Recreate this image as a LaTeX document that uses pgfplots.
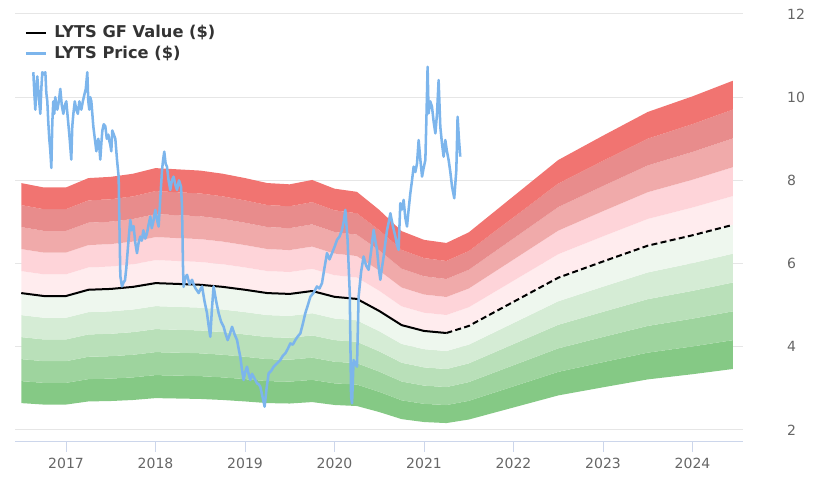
\documentclass[border=0pt]{standalone}
\usepackage{pgfplots}
\pgfplotsset{compat=1.18}
\usepackage{pgfplotstable}
\usepgfplotslibrary{fillbetween}
\usepackage{fontspec}
\setmainfont{DejaVu Sans}
\definecolor{r5}{RGB}{241,116,113}
\definecolor{r4}{RGB}{232,140,140}
\definecolor{r3}{RGB}{240,170,170}
\definecolor{r2}{RGB}{254,212,217}
\definecolor{r1}{RGB}{255,236,238}
\definecolor{g1}{RGB}{238,247,238}
\definecolor{g2}{RGB}{213,236,213}
\definecolor{g3}{RGB}{185,224,185}
\definecolor{g4}{RGB}{158,212,158}
\definecolor{g5}{RGB}{133,201,133}
\definecolor{priceblue}{RGB}{124,181,236}
\definecolor{axisblue}{RGB}{204,214,235}
\definecolor{gridgray}{RGB}{230,230,230}
\definecolor{tickgray}{RGB}{102,102,102}
\definecolor{textdark}{RGB}{51,51,51}

\pgfplotstableread{
x g b05 b06 b07 b08 b09 b11 b12 b13 b14 b15
2016.50 5.29 2.645 3.174 3.703 4.232 4.761 5.819 6.348 6.877 7.406 7.935
2016.75 5.22 2.610 3.132 3.654 4.176 4.698 5.742 6.264 6.786 7.308 7.830
2017.00 5.22 2.610 3.132 3.654 4.176 4.698 5.742 6.264 6.786 7.308 7.830
2017.25 5.37 2.685 3.222 3.759 4.296 4.833 5.907 6.444 6.981 7.518 8.055
2017.50 5.39 2.695 3.234 3.773 4.312 4.851 5.929 6.468 7.007 7.546 8.085
2017.75 5.44 2.720 3.264 3.808 4.352 4.896 5.984 6.528 7.072 7.616 8.160
2018.00 5.53 2.765 3.318 3.871 4.424 4.977 6.083 6.636 7.189 7.742 8.295
2018.25 5.51 2.755 3.306 3.857 4.408 4.959 6.061 6.612 7.163 7.714 8.265
2018.50 5.49 2.745 3.294 3.843 4.392 4.941 6.039 6.588 7.137 7.686 8.235
2018.75 5.44 2.720 3.264 3.808 4.352 4.896 5.984 6.528 7.072 7.616 8.160
2019.00 5.37 2.685 3.222 3.759 4.296 4.833 5.907 6.444 6.981 7.518 8.055
2019.25 5.29 2.645 3.174 3.703 4.232 4.761 5.819 6.348 6.877 7.406 7.935
2019.50 5.27 2.635 3.162 3.689 4.216 4.743 5.797 6.324 6.851 7.378 7.905
2019.75 5.34 2.670 3.204 3.738 4.272 4.806 5.874 6.408 6.942 7.476 8.010
2020.00 5.20 2.600 3.120 3.640 4.160 4.680 5.720 6.240 6.760 7.280 7.800
2020.25 5.15 2.575 3.090 3.605 4.120 4.635 5.665 6.180 6.695 7.210 7.725
2020.50 4.86 2.430 2.916 3.402 3.888 4.374 5.346 5.832 6.318 6.804 7.290
2020.75 4.52 2.260 2.712 3.164 3.616 4.068 4.972 5.424 5.876 6.328 6.780
2021.00 4.38 2.190 2.628 3.066 3.504 3.942 4.818 5.256 5.694 6.132 6.570
2021.25 4.33 2.165 2.598 3.031 3.464 3.897 4.763 5.196 5.629 6.062 6.495
2021.50 4.50 2.250 2.700 3.150 3.600 4.050 4.950 5.400 5.850 6.300 6.750
2022.00 5.08 2.540 3.048 3.556 4.064 4.572 5.588 6.096 6.604 7.112 7.620
2022.50 5.66 2.830 3.396 3.962 4.528 5.094 6.226 6.792 7.358 7.924 8.490
2023.00 6.05 3.025 3.630 4.235 4.840 5.445 6.655 7.260 7.865 8.470 9.075
2023.50 6.43 3.215 3.858 4.501 5.144 5.787 7.073 7.716 8.359 9.002 9.645
2024.00 6.68 3.340 4.008 4.676 5.344 6.012 7.348 8.016 8.684 9.352 10.020
2024.45 6.93 3.465 4.158 4.851 5.544 6.237 7.623 8.316 9.009 9.702 10.395
}\bands

\begin{document}
\begin{tikzpicture}
\begin{axis}[
  at={(11.25pt,37.5pt)}, anchor=south west,
  scale only axis, width=546pt, height=321pt,
  xmin=2016.43, xmax=2024.564, ymin=1.71, ymax=12,
  axis line style={draw=none},
  ymajorgrids, grid style={color=gridgray, line width=0.75pt},
  ytick={2,4,6,8,10,12}, yticklabels={2,4,6,8,10,12},
  yticklabel pos=right,
  ytick style={draw=none},
  xtick={2017,2018,2019,2020,2021,2022,2023,2024},
  xticklabels={2017,2018,2019,2020,2021,2022,2023,2024},
  xtick pos=bottom,
  xtick style={draw=axisblue, line width=0.75pt},
  tick align=outside, major tick length=7.5pt,
  ticklabel style={font=\fontsize{10.5}{12}\selectfont, text=tickgray},
  yticklabel style={anchor=west, inner sep=0pt, xshift=25.5pt},
  xticklabel style={anchor=north, inner sep=0pt, yshift=-4.5pt},
  legend style={at={(0,1)}, anchor=north west, draw=none, fill=none,
    xshift=6pt, yshift=-5.5pt, inner sep=1pt, row sep=0.8pt,
    font=\bfseries\fontsize{12.2}{14}\selectfont, text=textdark},
  legend cell align=left,
  legend image code/.code={\draw[#1] (0pt,0pt) -- (15pt,0pt); \path (18.5pt,0pt);},
]
\addplot[draw=none, name path=p05, forget plot] table[x=x,y=b05]{\bands};
\addplot[draw=none, name path=p06, forget plot] table[x=x,y=b06]{\bands};
\addplot[draw=none, name path=p07, forget plot] table[x=x,y=b07]{\bands};
\addplot[draw=none, name path=p08, forget plot] table[x=x,y=b08]{\bands};
\addplot[draw=none, name path=p09, forget plot] table[x=x,y=b09]{\bands};
\addplot[draw=none, name path=p10, forget plot] table[x=x,y=g]{\bands};
\addplot[draw=none, name path=p11, forget plot] table[x=x,y=b11]{\bands};
\addplot[draw=none, name path=p12, forget plot] table[x=x,y=b12]{\bands};
\addplot[draw=none, name path=p13, forget plot] table[x=x,y=b13]{\bands};
\addplot[draw=none, name path=p14, forget plot] table[x=x,y=b14]{\bands};
\addplot[draw=none, name path=p15, forget plot] table[x=x,y=b15]{\bands};
\addplot[fill=g5, draw=none, forget plot] fill between[of=p05 and p06];
\addplot[fill=g4, draw=none, forget plot] fill between[of=p06 and p07];
\addplot[fill=g3, draw=none, forget plot] fill between[of=p07 and p08];
\addplot[fill=g2, draw=none, forget plot] fill between[of=p08 and p09];
\addplot[fill=g1, draw=none, forget plot] fill between[of=p09 and p10];
\addplot[fill=r1, draw=none, forget plot] fill between[of=p10 and p11];
\addplot[fill=r2, draw=none, forget plot] fill between[of=p11 and p12];
\addplot[fill=r3, draw=none, forget plot] fill between[of=p12 and p13];
\addplot[fill=r4, draw=none, forget plot] fill between[of=p13 and p14];
\addplot[fill=r5, draw=none, forget plot] fill between[of=p14 and p15];
\draw[axisblue, line width=0.75pt] (rel axis cs:0,0) -- (rel axis cs:1,0);
% GF value (solid)
\addplot[black, line width=1.5pt, line join=round] coordinates {
(2016.50,5.29) (2016.75,5.22) (2017.00,5.22) (2017.25,5.37) (2017.50,5.39)
(2017.75,5.44) (2018.00,5.53) (2018.25,5.51) (2018.50,5.49) (2018.75,5.44)
(2019.00,5.37) (2019.25,5.29) (2019.50,5.27) (2019.75,5.34) (2020.00,5.20)
(2020.25,5.15) (2020.50,4.86) (2020.75,4.52) (2021.00,4.38) (2021.25,4.33)
};
\addlegendentry{LYTS GF Value (\$)}
% GF value projection (dashed)
\addplot[black, line width=1.5pt, dash pattern=on 4.5pt off 2.5pt, forget plot] coordinates {
(2021.25,4.33) (2021.50,4.50) (2022.00,5.08) (2022.50,5.66) (2023.00,6.05)
(2023.50,6.43) (2024.00,6.68) (2024.45,6.93)
};
% Price
\addplot[priceblue, line width=1.9pt, line join=round] coordinates {
(2016.635,10.6) (2016.646,10.1) (2016.657,9.7) (2016.668,10.2) (2016.679,10.5)
(2016.696,10.0) (2016.713,9.6) (2016.724,10.2) (2016.735,10.6)
(2016.752,10.55) (2016.769,10.6) (2016.780,10.1) (2016.791,9.9) (2016.802,9.4)
(2016.813,9.0) (2016.825,8.7) (2016.836,8.3) (2016.847,9.4) (2016.858,9.9)
(2016.869,9.6) (2016.880,10.0) (2016.892,9.8) (2016.903,9.7) (2016.920,9.9)
(2016.936,10.2) (2016.953,9.8) (2016.970,9.6) (2016.986,9.8) (2017.003,9.9)
(2017.020,9.5) (2017.037,9.1) (2017.048,8.8) (2017.059,8.5) (2017.070,9.3)
(2017.082,9.6) (2017.098,9.9) (2017.115,9.7) (2017.132,9.6) (2017.149,9.9)
(2017.160,9.8) (2017.171,9.7) (2017.188,9.9) (2017.204,10.05) (2017.221,10.2)
(2017.238,10.6) (2017.249,9.9) (2017.260,9.7) (2017.271,10.0) (2017.283,9.9)
(2017.294,9.6) (2017.305,9.3) (2017.322,9.0) (2017.339,8.7) (2017.350,8.9)
(2017.361,9.0) (2017.372,8.8) (2017.383,8.5) (2017.395,8.9) (2017.406,9.2)
(2017.422,9.35) (2017.439,9.3) (2017.456,9.0) (2017.473,9.1) (2017.484,8.95)
(2017.495,8.85) (2017.506,8.7) (2017.517,9.2) (2017.534,9.1) (2017.551,9.0)
(2017.570,8.49) (2017.588,8.09) (2017.597,6.9) (2017.607,5.7) (2017.625,5.45)
(2017.644,5.55) (2017.659,5.6) (2017.674,5.9) (2017.696,6.5)
(2017.718,7.05) (2017.736,6.8) (2017.755,6.9) (2017.774,6.5) (2017.793,6.25)
(2017.811,6.5) (2017.830,6.65) (2017.847,6.55) (2017.864,6.8) (2017.885,6.6)
(2017.905,6.73) (2017.924,6.95) (2017.942,7.13) (2017.958,6.85) (2017.975,7.0)
(2017.986,7.15) (2017.998,7.29) (2018.017,7.05) (2018.035,6.89) (2018.054,7.6)
(2018.073,8.25) (2018.085,8.5) (2018.098,8.69) (2018.113,8.4) (2018.128,8.33)
(2018.146,8.0) (2018.165,7.77) (2018.183,8.0) (2018.202,8.09) (2018.221,7.9)
(2018.240,7.77) (2018.262,8.0) (2018.285,7.85) (2018.296,7.37) (2018.307,5.93)
(2018.314,5.44) (2018.333,5.65) (2018.352,5.73) (2018.380,5.5) (2018.408,5.61)
(2018.426,5.5) (2018.445,5.41) (2018.464,5.35) (2018.482,5.29) (2018.501,5.38)
(2018.520,5.45) (2018.547,5.1) (2018.575,4.81) (2018.594,4.5) (2018.612,4.24)
(2018.630,4.9) (2018.649,5.45) (2018.677,5.1) (2018.705,4.81) (2018.733,4.6)
(2018.761,4.48) (2018.784,4.3) (2018.806,4.16) (2018.830,4.3) (2018.855,4.48)
(2018.883,4.3) (2018.911,4.16) (2018.929,3.95) (2018.947,3.76) (2018.966,3.45)
(2018.984,3.20) (2019.003,3.4) (2019.022,3.52) (2019.040,3.35) (2019.059,3.20)
(2019.078,3.35) (2019.096,3.28) (2019.115,3.2) (2019.134,3.12) (2019.152,3.1)
(2019.171,3.04) (2019.195,2.8) (2019.219,2.56) (2019.241,3.0) (2019.264,3.36)
(2019.292,3.42) (2019.320,3.52) (2019.357,3.6) (2019.394,3.68) (2019.422,3.78)
(2019.450,3.84) (2019.478,3.95) (2019.506,4.08) (2019.534,4.05) (2019.562,4.16)
(2019.590,4.25) (2019.618,4.32) (2019.646,4.55) (2019.674,4.81) (2019.702,5.0)
(2019.730,5.20) (2019.767,5.3) (2019.804,5.45) (2019.832,5.4) (2019.860,5.53)
(2019.888,5.9) (2019.916,6.25) (2019.944,6.1) (2019.972,6.25) (2020.000,6.4)
(2020.028,6.57) (2020.056,6.65) (2020.084,6.81) (2020.102,7.0) (2020.121,7.29)
(2020.146,6.57) (2020.170,5.30) (2020.185,2.80)
(2020.196,2.64) (2020.213,3.68) (2020.232,3.6) (2020.251,3.52) (2020.269,5.20)
(2020.297,5.8) (2020.325,6.17) (2020.353,5.95) (2020.381,5.85) (2020.409,6.3)
(2020.437,6.81) (2020.456,6.55) (2020.475,6.33) (2020.494,5.9) (2020.512,5.61)
(2020.530,5.9) (2020.549,6.17) (2020.568,6.5) (2020.587,6.81) (2020.606,7.0)
(2020.624,7.21) (2020.652,6.9) (2020.680,6.65) (2020.698,6.45) (2020.716,6.33)
(2020.735,7.45) (2020.754,7.3) (2020.772,7.53) (2020.791,7.1) (2020.810,6.89)
(2020.828,7.3) (2020.847,7.69) (2020.866,8.0) (2020.884,8.33) (2020.903,8.2)
(2020.922,8.41) (2020.940,8.97) (2020.959,8.5) (2020.978,8.09) (2020.996,8.3)
(2021.015,8.49) (2021.028,9.6) (2021.040,10.73) (2021.051,9.61) (2021.070,9.9)
(2021.089,9.77) (2021.108,9.4) (2021.127,9.13) (2021.145,9.6) (2021.163,10.41)
(2021.182,9.29) (2021.200,8.9) (2021.219,8.57) (2021.238,8.97) (2021.256,8.7)
(2021.275,8.49) (2021.294,8.2) (2021.313,7.85) (2021.338,7.57) (2021.361,8.25)
(2021.375,9.53) (2021.390,9.0) (2021.405,8.57)
};
\addlegendentry{LYTS Price (\$)}
\end{axis}
\pgfresetboundingbox
\useasboundingbox (0,0) rectangle (615pt,369pt);
\end{tikzpicture}
\end{document}
